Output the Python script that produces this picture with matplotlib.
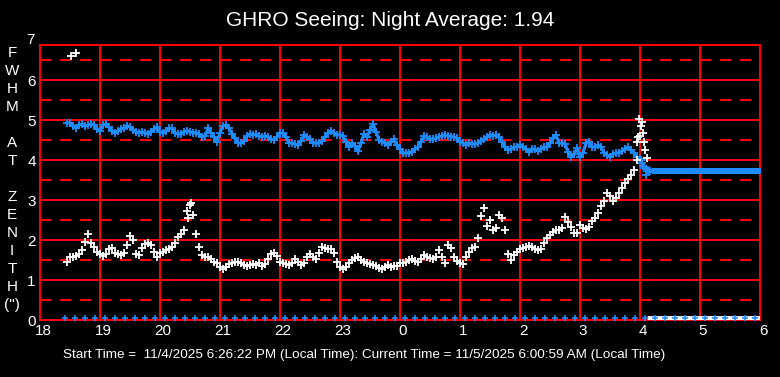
import numpy as np
import matplotlib
matplotlib.use("Agg")
import matplotlib.pyplot as plt
from matplotlib import transforms

plt.rcParams['font.family'] = ['Liberation Sans', 'DejaVu Sans']

# ---------------- data ----------------
title = "GHRO Seeing: Night Average: 1.94"
footer = "Start Time =  11/4/2025 6:26:22 PM (Local Time): Current Time = 11/5/2025 6:00:59 AM (Local Time)"
ylabel_letters = ["F", "W", "H", "M", "", "A", "T", "", "Z", "E", "N", "I", "T", "H", '(")']
x_ticks = list(range(18, 31))
x_tick_labels = ["18", "19", "20", "21", "22", "23", "0", "1", "2", "3", "4", "5", "6"]
y_ticks = [0, 1, 2, 3, 4, 5, 6, 7]

# seeing samples every 0.05 h starting at 18.45 h
seeing_start = 18.45
seeing_step = 0.05
seeing_values = [
    1.46, 1.58, 1.58, 1.60, 1.65, 1.75, 1.96, 2.15, 1.92, 1.82, 1.71, 1.65, 1.60, 1.65, 1.77, 1.79,
    1.68, 1.65, 1.62, 1.68, 1.87, 2.10, 2.00, 1.65, 1.62, 1.79, 1.89, 1.92, 1.87, 1.71, 1.58, 1.67,
    # 20.05 - 22.00
    1.71, 1.75, 1.77, 1.83, 1.92, 2.07, 2.15, 2.25, 2.72, 2.88, 2.62, 2.15, 1.82, 1.63, 1.58, 1.58,
    1.52, 1.46, 1.42, 1.33, 1.27, 1.33, 1.40, 1.43, 1.46, 1.46, 1.42, 1.38, 1.35, 1.38, 1.40, 1.38,
    1.43, 1.35, 1.40, 1.52, 1.65, 1.68, 1.60, 1.46,
    # 22.05 - 24.00
    1.43, 1.40, 1.38, 1.43, 1.52, 1.46, 1.38, 1.42, 1.58, 1.65, 1.58, 1.52, 1.67, 1.83, 1.79, 1.77,
    1.77, 1.67, 1.46, 1.33, 1.27, 1.33, 1.43, 1.50, 1.54, 1.58, 1.50, 1.46, 1.42, 1.40, 1.38, 1.35,
    1.29, 1.27, 1.33, 1.38, 1.33, 1.35, 1.35, 1.42,
    # 24.05 - 26.00
    1.43, 1.46, 1.50, 1.52, 1.48, 1.46, 1.52, 1.62, 1.58, 1.54, 1.52, 1.58, 1.75, 1.58, 1.42, 1.87,
    1.79, 1.58, 1.48, 1.42, 1.40, 1.58, 1.71, 1.79, 1.82, 2.05, 2.60, 2.80, 2.35, 2.50, 2.25, 2.30,
    2.62, 2.55, 2.25, 1.65, 1.50, 1.62, 1.70, 1.77,
    # 26.05 - 28.00
    1.80, 1.83, 1.85, 1.82, 1.78, 1.75, 1.78, 1.92, 2.05, 2.12, 2.20, 2.25, 2.25, 2.30, 2.58, 2.45,
    2.32, 2.17, 2.17, 2.38, 2.30, 2.27, 2.32, 2.48, 2.55, 2.68, 2.85, 2.98, 3.18, 3.10, 2.98, 3.05,
    3.18, 3.30, 3.42, 3.52, 3.62, 3.75, 4.00, 4.60,
]
seeing_extra_t = [18.52, 18.60, 20.47, 20.52, 27.95, 27.96, 27.98, 28.01, 28.03, 28.05, 28.07, 28.09, 28.11]
seeing_extra_v = [6.60, 6.68, 2.55, 2.92, 4.45, 4.57, 5.02, 4.85, 4.95, 4.67, 4.45, 4.25, 4.05]

# second (blue) series, same sampling
blue_values = [
    4.93, 4.92, 4.85, 4.79, 4.87, 4.90, 4.85, 4.87, 4.90, 4.87, 4.77, 4.73, 4.87, 4.90, 4.82, 4.73,
    4.68, 4.73, 4.77, 4.79, 4.85, 4.82, 4.75, 4.71, 4.68, 4.71, 4.68, 4.65, 4.71, 4.77, 4.82, 4.71,
    # 20.05 - 22.00
    4.67, 4.73, 4.79, 4.79, 4.68, 4.65, 4.65, 4.71, 4.73, 4.71, 4.68, 4.68, 4.65, 4.57, 4.60, 4.79,
    4.67, 4.58, 4.46, 4.68, 4.85, 4.87, 4.79, 4.65, 4.54, 4.43, 4.42, 4.48, 4.60, 4.65, 4.63, 4.65,
    4.60, 4.58, 4.60, 4.57, 4.52, 4.50, 4.58, 4.68,
    # 22.05 - 24.00
    4.67, 4.57, 4.43, 4.42, 4.40, 4.37, 4.48, 4.63, 4.57, 4.52, 4.43, 4.42, 4.43, 4.48, 4.57, 4.68,
    4.73, 4.67, 4.63, 4.63, 4.60, 4.46, 4.32, 4.42, 4.35, 4.23, 4.42, 4.65, 4.57, 4.75, 4.90, 4.71,
    4.50, 4.46, 4.43, 4.37, 4.46, 4.52, 4.37, 4.27,
    # 24.05 - 26.00
    4.17, 4.18, 4.17, 4.21, 4.27, 4.32, 4.46, 4.60, 4.57, 4.52, 4.52, 4.54, 4.58, 4.60, 4.63, 4.60,
    4.58, 4.58, 4.54, 4.46, 4.42, 4.37, 4.42, 4.40, 4.40, 4.42, 4.48, 4.52, 4.57, 4.63, 4.60, 4.63,
    4.58, 4.46, 4.32, 4.25, 4.27, 4.32, 4.33, 4.37,
    # 26.05 - 28.00
    4.33, 4.27, 4.21, 4.27, 4.27, 4.23, 4.27, 4.32, 4.32, 4.42, 4.54, 4.63, 4.42, 4.43, 4.40, 4.21,
    4.07, 4.15, 4.29, 4.08, 4.18, 4.42, 4.46, 4.33, 4.32, 4.37, 4.32, 4.18, 4.12, 4.08, 4.15, 4.17,
    4.18, 4.23, 4.27, 4.32, 4.25, 4.17, 4.08, 4.02,
]
blue_tail_t = [28.02, 28.03, 28.045, 28.07, 28.10, 28.14, 28.17]
blue_tail_v = [4.00, 3.92, 3.85, 3.79, 3.77, 3.75, 3.73]
blue_outlier_t = [28.10]
blue_outlier_v = [3.62]
blue_flat_t = [28.28, 28.45, 28.62, 28.78, 28.95, 29.12, 29.28, 29.45, 29.62, 29.78, 29.93]
blue_flat_v = [3.72, 3.72, 3.72, 3.72, 3.72, 3.72, 3.72, 3.72, 3.72, 3.72, 3.72]

# status markers along zero line (every 10 minutes)
status_start = 18.42
status_end = 30.0
idle_start = 28.11
idle_end = 30.0

# ---------------- figure ----------------
W, H = 780, 377
fig = plt.figure(figsize=(W / 100, H / 100), dpi=100, facecolor='black')
ax = fig.add_axes([40 / W, 57 / H, 720 / W, 275 / H])
ax.set_facecolor('black')
ax.set_xlim(18, 30)
ax.set_ylim(0, 6.875)

red = '#ff0000'
blue = '#1e8cff'
glw = 1.45

for v in range(1, 7):
    ax.axhline(v, color=red, lw=glw, zorder=1)
for v in np.arange(0.5, 7, 1.0):
    ax.axhline(v, color=red, lw=glw, ls=(0, (7.92 / glw, 6.48 / glw)), dash_capstyle='butt', zorder=1)
for xv in x_ticks[1:-1]:
    ax.axvline(xv, color=red, lw=glw, zorder=1)
for s in ax.spines.values():
    s.set_color(red)
    s.set_linewidth(glw)
    s.set_zorder(1)

ax.set_xticks(x_ticks)
ax.set_xticklabels(x_tick_labels)
ax.set_yticks(y_ticks[:-1])
ax.set_yticklabels([str(v) for v in y_ticks[:-1]])
ax.tick_params(length=0, colors='white', labelsize=11, pad=3.0)
shift = transforms.ScaledTranslation(3 / 100, 0, fig.dpi_scale_trans)
for lab in ax.get_xticklabels():
    lab.set_transform(lab.get_transform() + shift)
ax.text(-0.007, 7, str(y_ticks[-1]), transform=transforms.blended_transform_factory(ax.transAxes, ax.transData),
        ha='right', va='center', color='white', fontsize=11, clip_on=False)

# data
t_seeing = seeing_start + seeing_step * np.arange(len(seeing_values))
t_blue = seeing_start + seeing_step * np.arange(len(blue_values))

mk = dict(marker='+', ls='none', markersize=5.5, mew=1.3, zorder=3)
ax.plot(t_blue, blue_values, color=blue, lw=2.2, zorder=3)
ax.plot(t_blue, blue_values, color=blue, **mk)
ax.plot(blue_tail_t, blue_tail_v, color=blue, lw=2.2, zorder=3)
ax.plot(blue_tail_t, blue_tail_v, color=blue, **mk)
ax.plot(blue_outlier_t, blue_outlier_v, color=blue, **mk)
rect = [(-1, -0.55), (1, -0.55), (1, 0.55), (-1, 0.55), (-1, -0.55)]
ax.plot(blue_flat_t, blue_flat_v, color=blue, ls='none', marker=rect, markersize=6.6, mew=0, zorder=3)
ax.plot([blue_tail_t[-1], blue_flat_t[0]], [blue_tail_v[-1], blue_flat_v[0]], color=blue, lw=3, zorder=3)

ax.plot(t_seeing, seeing_values, color='white', **mk)
ax.plot(seeing_extra_t, seeing_extra_v, color='white', **mk)

up = transforms.offset_copy(ax.transData, fig=fig, x=0, y=2.5, units='dots')
ax.plot([idle_start, idle_end], [0, 0], color='white', lw=3.4, solid_capstyle='butt', transform=up, zorder=3)
status_t = np.arange(status_start, status_end + 0.01, 1 / 6)
ax.plot(status_t, np.zeros_like(status_t), color=blue, marker='+', ls='none', markersize=5, mew=1.2,
        transform=up, zorder=4, clip_on=False)

# texts
fig.text(0.5, 1 - 20 / H, title, ha='center', va='center', color='white', fontsize=15)
fig.text(63 / W, 1 - 355 / H, footer, ha='left', va='center', color='white', fontsize=9.7)
y0 = 53
for i, ch in enumerate(ylabel_letters):
    if ch:
        fig.text(12 / W, 1 - (y0 + 18 * i) / H, ch, ha='center', va='center', color='white', fontsize=11)

fig.savefig('out.png', dpi=100, facecolor='black')
